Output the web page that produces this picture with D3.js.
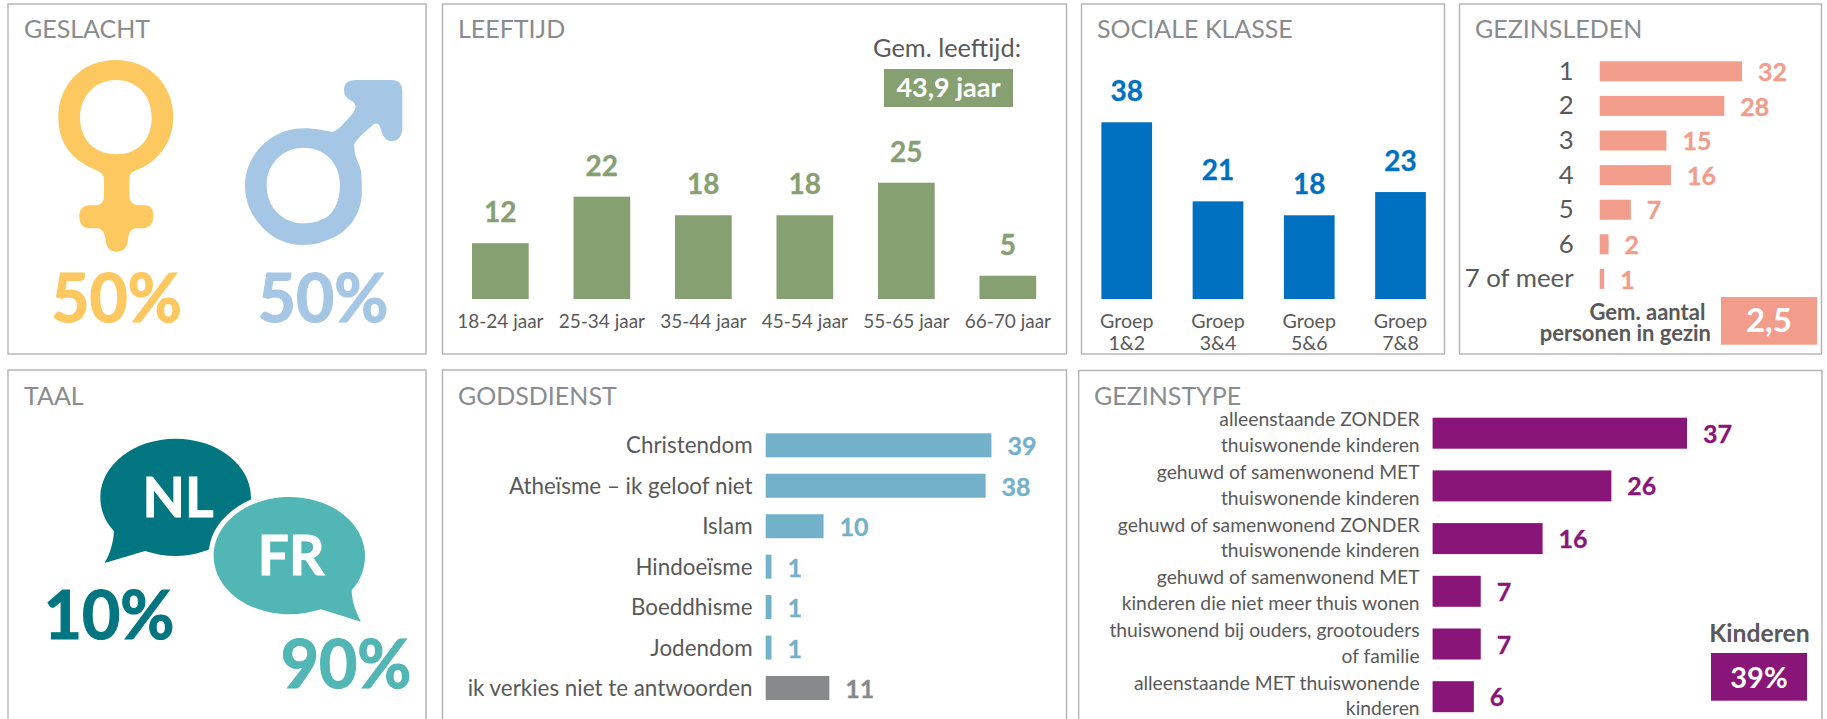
<!DOCTYPE html>
<html><head><meta charset="utf-8">
<script src="https://cdn.jsdelivr.net/npm/d3@7"></script>
<style>html,body{margin:0;padding:0;background:#fff;overflow:hidden}svg{display:block}text{font-family:Lato,"Open Sans",sans-serif}</style>
</head><body><svg id="c" width="1827" height="719"></svg>
<script>
const ageCats=["18-24 jaar","25-34 jaar","35-44 jaar","45-54 jaar","55-65 jaar","66-70 jaar"];
const ageVals=[12,22,18,18,25,5];
const classCats=["Groep\n1&2","Groep\n3&4","Groep\n5&6","Groep\n7&8"];
const classVals=[38,21,18,23];
const memberCats=["1","2","3","4","5","6","7 of meer"];
const memberVals=[32,28,15,16,7,2,1];
const religionCats=["Christendom","Atheïsme – ik geloof niet","Islam","Hindoeïsme","Boeddhisme","Jodendom","ik verkies niet te antwoorden"];
const religionVals=[39,38,10,1,1,1,11];
const familyCats=["alleenstaande ZONDER\nthuiswonende kinderen","gehuwd of samenwonend MET\nthuiswonende kinderen","gehuwd of samenwonend ZONDER\nthuiswonende kinderen","gehuwd of samenwonend MET\nkinderen die niet meer thuis wonen","thuiswonend bij ouders, grootouders\nof familie","alleenstaande MET thuiswonende\nkinderen"];
const familyVals=[37,26,16,7,7,6];
const genderShares=["50%","50%"];
const languageShares=["10%","90%"];

const C={title:"#898c8e",label:"#595959",green:"#86a071",blue:"#0070c0",salmon:"#f29d8b",teal:"#72b1c9",grey:"#87898c",purple:"#8a1579",yellow:"#fdc860",lblue:"#a5c7e5",nl:"#027680",fr:"#52b6b4"};
const svg=d3.select("#c");
const txt=(x,y,s,size,fill,o={})=>svg.append("text").attr("x",x).attr("y",y).attr("font-size",size).attr("fill",fill)
  .attr("font-weight",o.w||400).attr("text-anchor",o.a||"start").attr("stroke",o.s?fill:null).attr("stroke-width",o.s||null).text(s);
const band=(cats,start,step,bw)=>{const p=1-bw/step;return d3.scaleBand().domain(cats).range([start,start+cats.length*step]).paddingInner(p).paddingOuter(p/2);};

function multiline(sel,x,lh,first){
  sel.each(function(){const t=d3.select(this),parts=t.text().split("\n");t.text(null);
    parts.forEach((p,i)=>t.append("tspan").attr("x",x).attr("dy",i?lh:first).text(p));});
}
function vbars(cats,vals,xs,ys,color,fs,lfs,lh){
  const g=svg.append("g");
  g.selectAll("rect").data(vals).join("rect").attr("x",(d,i)=>xs(cats[i])).attr("width",xs.bandwidth())
    .attr("y",d=>ys(d)).attr("height",d=>ys(0)-ys(d)).attr("fill",color);
  g.selectAll("text.v").data(vals).join("text").attr("class","v").attr("x",(d,i)=>xs(cats[i])+xs.bandwidth()/2)
    .attr("y",d=>ys(d)-21).attr("text-anchor","middle").attr("font-weight",700).attr("font-size",fs).attr("fill",color).attr("stroke",color).attr("stroke-width",.3).text(d=>d);
  const ax=svg.append("g").attr("transform",`translate(0,${ys(0)})`).call(d3.axisBottom(xs).tickSize(0));
  ax.select(".domain").remove();
  ax.selectAll("text").attr("font-size",lfs).attr("fill",C.label).attr("font-family","Lato").attr("y",0).attr("dy",null)
    .call(multiline,0,lh,29);
}
function hbars(cats,vals,xs,ys,colorOf,o){
  const g=svg.append("g");
  g.selectAll("rect").data(vals).join("rect").attr("x",xs(0)).attr("width",d=>xs(d)-xs(0))
    .attr("y",(d,i)=>ys(cats[i])).attr("height",ys.bandwidth()).attr("fill",(d,i)=>colorOf(i));
  g.selectAll("text.v").data(vals).join("text").attr("class","v").attr("x",d=>xs(d)+16)
    .attr("y",(d,i)=>ys(cats[i])+ys.bandwidth()/2+o.vdy).attr("font-weight",700).attr("font-size",o.vfs).attr("fill",(d,i)=>colorOf(i)).attr("stroke",(d,i)=>colorOf(i)).attr("stroke-width",.3).text(d=>d);
  const ax=svg.append("g").attr("transform",`translate(${o.lx},0)`).call(d3.axisLeft(ys).tickSize(0).tickPadding(0));
  ax.select(".domain").remove();
  ax.selectAll("text").attr("font-size",o.lfs).attr("fill",C.label).attr("font-family","Lato").attr("x",0).attr("dy",null)
    .call(multiline,0,o.lh||0,o.ldy);
}

// panels
[[8,4,418,350,"GESLACHT",24,38],[442.5,4,624,350,"LEEFTIJD",458,38],[1081.5,4,363,350,"SOCIALE KLASSE",1097,38],[1459.5,4,362,350,"GEZINSLEDEN",1475,38],
 [8,370,418,370,"TAAL",24,405],[442.5,370,624,370,"GODSDIENST",458,405],[1078.7,370.5,743.3,370,"GEZINSTYPE",1094,405]].forEach(p=>{
  svg.append("rect").attr("x",p[0]).attr("y",p[1]).attr("width",p[2]).attr("height",p[3]).attr("fill","#fff").attr("stroke","#b2b2b2").attr("stroke-width",1.4);
  txt(p[5],p[6],p[4],25,C.title);
});

// gender icons (zoom-space outlines scaled to page)
const icons=svg.append("g").attr("transform","scale(0.33333)");
icons.append("path").attr("fill",C.yellow).attr("fill-rule","evenodd").attr("d","M347,180 C450,180 520,255 520,352 C520,430 470,490 405,512 C392,518 388,525 388,540 L388,585 C388,605 400,616 420,616 L435,616 C452,616 460,628 460,648 C460,672 448,685 425,685 L410,685 C392,685 385,700 383,725 C381,745 368,755 350,755 C332,755 320,745 318,725 C315,700 308,685 290,685 L268,685 C248,685 238,670 238,648 C238,628 250,616 270,616 L285,616 C303,616 312,605 312,585 L312,540 C312,525 305,518 292,512 C225,485 175,440 175,352 C175,255 245,180 347,180 Z M348,240 C285,240 240,290 240,352 C240,420 285,463 348,463 C410,463 455,425 455,352 C455,285 410,240 348,240 Z");
icons.append("path").attr("fill",C.lblue).attr("fill-rule","evenodd").attr("d","M910,385 C945,385 975,392 995,396 C1015,392 1030,370 1050,350 C1065,335 1072,320 1062,308 C1050,298 1032,295 1032,270 C1032,250 1045,240 1065,240 L1175,240 C1195,240 1207,252 1207,272 L1207,380 C1207,408 1195,423 1175,423 C1150,423 1145,395 1140,380 C1135,368 1125,368 1115,378 C1095,395 1075,412 1063,432 C1060,460 1072,480 1080,500 C1087,525 1085,560 1085,590 C1080,640 1055,680 1010,708 C975,725 945,735 908,735 C860,735 820,715 795,690 C755,650 735,610 735,555 C735,465 815,385 910,385 Z M910,443 C850,443 800,490 800,555 C800,625 850,670 910,670 C940,670 965,662 985,648 C1005,630 1020,600 1020,555 C1020,490 975,443 910,443 Z");
txt(116.5,321.7,genderShares[0],66,C.yellow,{w:700,a:"middle",s:1.2});
txt(323,321.7,genderShares[1],66,C.lblue,{w:700,a:"middle",s:1.2});

// language bubbles
const bub=svg.append("g").attr("transform","translate(0,360) scale(0.33333)");
bub.append("path").attr("fill",C.nl).attr("d","M342,513 C315,485 301,450 301,412 C301,315 402,236 527,236 C652,236 753,315 753,412 C753,500 652,588 527,588 C495,588 465,582 435,573 L314,609 C330,580 340,550 342,513 Z");
bub.append("path").attr("fill",C.fr).attr("stroke","#fff").attr("stroke-width",30).attr("paint-order","stroke").attr("d","M1055,690 C1082,662 1095,625 1095,587 C1095,490 994,411 868,411 C742,411 641,490 641,587 C641,684 742,763 868,763 C900,763 932,757 963,748 L1083,785 C1067,755 1056,725 1055,690 Z");
txt(178,517,"NL",55,"#fff",{w:700,a:"middle",s:1});
txt(291,575,"FR",55,"#fff",{w:700,a:"middle",s:1});
txt(109,639,languageShares[0],66,C.nl,{w:700,a:"middle",s:1.2});
txt(346,688,languageShares[1],66,C.fr,{w:700,a:"middle",s:1.2});

// age
vbars(ageCats,ageVals,band(ageCats,449.6,101.5,56.7),d3.scaleLinear().domain([0,25]).range([299,182.7]),C.green,28,19,22);
txt(947,57,"Gem. leeftijd:",25.4,C.label,{a:"middle"});
svg.append("rect").attr("x",884).attr("y",69).attr("width",129).attr("height",38).attr("fill",C.green);
txt(948.5,97,"43,9 jaar",27,"#fff",{w:700,a:"middle"});

// class
vbars(classCats,classVals,band(classCats,1081.1,91.26,50.7),d3.scaleLinear().domain([0,38]).range([299,122.3]),C.blue,28,19.6,22);

// members
hbars(memberCats,memberVals,d3.scaleLinear().domain([0,32]).range([1599.7,1742.1]),band(memberCats,54,34.6,20),()=>C.salmon,{vdy:9.7,vfs:25,lx:1573.6,lfs:25.8,ldy:8.5});
svg.append("rect").attr("x",1721).attr("y",297).attr("width",96).attr("height",47.7).attr("fill",C.salmon);
txt(1769,332,"2,5",33,"#fff",{w:700,a:"middle"});
txt(1705.4,320,"Gem. aantal",22,C.label,{w:700,a:"end"});
txt(1711,341,"personen in gezin",22,C.label,{w:700,a:"end"});

// religion
hbars(religionCats,religionVals,d3.scaleLinear().domain([0,39]).range([765.7,991.4]),band(religionCats,425.1,40.45,24),i=>i===6?C.grey:C.teal,{vdy:10,vfs:25,lx:752.6,lfs:22.4,ldy:8});

// family
hbars(familyCats,familyVals,d3.scaleLinear().domain([0,37]).range([1432.6,1687]),band(familyCats,406.85,52.7,31),()=>C.purple,{vdy:9.5,vfs:25,lx:1419.6,lfs:19.3,lh:25.6,ldy:-7});
txt(1759.5,641.7,"Kinderen",24.7,C.label,{w:700,a:"middle"});
svg.append("rect").attr("x",1711).attr("y",653).attr("width",96).attr("height",47.7).attr("fill",C.purple);
txt(1759,688,"39%",29,"#fff",{w:700,a:"middle"});
</script></body></html>
